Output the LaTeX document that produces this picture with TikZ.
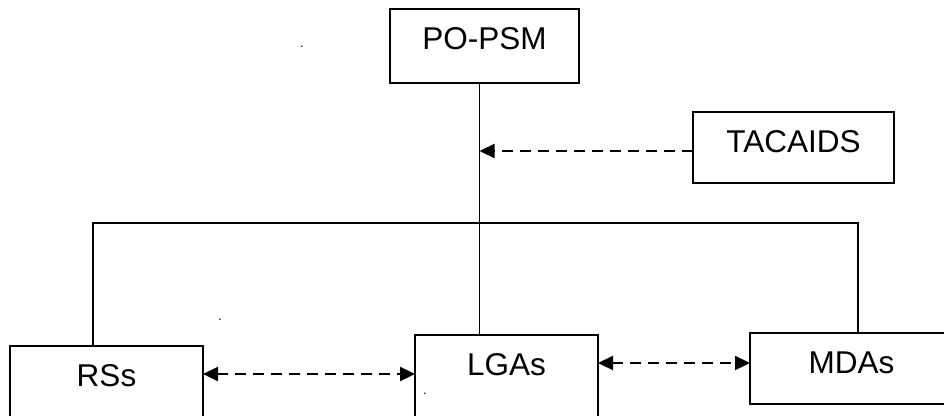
\documentclass[tikz,border=0pt]{standalone}
\usepackage{fontspec}
\setmainfont{Liberation Sans}
\usetikzlibrary{arrows.meta}
\tikzset{
  boxnode/.style={draw, line width=2.2pt, inner xsep=0pt, inner ysep=0pt, outer sep=0pt,
    font=\fontsize{31.5}{36}\selectfont, text height=40pt},
  wire/.style={line width=1.9pt},
  dlink/.style={line width=2.3pt, dash pattern=on 11pt off 7pt},
  tip/.style={-{Triangle[length=15pt,width=14pt]}},
  dtip/.style={{Triangle[length=15pt,width=14pt]}-{Triangle[length=15pt,width=14pt]}},
  stray/.style={font=\fontsize{13}{14}\selectfont, inner sep=0pt, anchor=base}
}
\begin{document}
\begin{tikzpicture}[x=1pt,y=-1pt]
\useasboundingbox (0,0) rectangle (944,415);
\clip (0,0) rectangle (944,415);
% boxes
\node[boxnode, minimum width=189pt, text depth=34pt, anchor=north] (popsm) at (484.5,9) {PO-PSM};
\node[boxnode, minimum width=201pt, text depth=31pt, anchor=north] (tac) at (793.5,112) {TACAIDS};
\node[boxnode, minimum width=193pt, text depth=50pt, anchor=north] (rss) at (106.5,346) {RSs};
\node[boxnode, minimum width=183pt, text depth=50pt, anchor=north] (lga) at (506.5,335) {LGAs};
\node[boxnode, minimum width=203pt, text depth=31pt, anchor=north] (mda) at (851.5,333) {MDAs};
% junctions
\coordinate (j) at (479.5,223);
\coordinate (jl) at (93,223);
\coordinate (jr) at (858,223);
\coordinate (ta) at (479.5,151);
% tree
\draw[wire] (popsm.south -| j) -- (lga.north -| j);
\draw[wire] (rss.north -| jl) -- (jl) -- (jr) -- (mda.north -| jr);
% dashed arrows
\draw[dlink, tip] (tac.west |- ta) -- (ta);
\coordinate (r1) at (0,374);
\coordinate (r2) at (0,363);
\draw[dlink, dtip] (rss.east |- r1) -- (lga.west |- r1);
\draw[dlink, dtip] (lga.east |- r2) -- (mda.west |- r2);
% stray dots
\node[stray] (d1) at (302,47) {.};
\node[stray] (d2) at (220,320) {.};
\node[stray] (d3) at (425,394) {.};
\end{tikzpicture}
\end{document}
